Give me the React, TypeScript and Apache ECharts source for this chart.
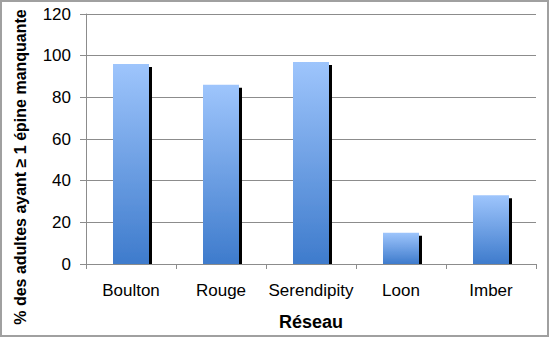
import React, { useEffect, useRef } from "react";
import * as echarts from "echarts";

const categories = ["Boulton", "Rouge", "Serendipity", "Loon", "Imber"];
const values = [96, 86, 97, 15, 33];
const yTicks = [0, 20, 40, 60, 80, 100, 120];
const yTitle = "% des adultes ayant ≥ 1 épine manquante";
const xTitle = "Réseau";

const FONT = "'Liberation Sans', Arial, sans-serif";

export default function App() {
  const ref = useRef<HTMLDivElement>(null);
  useEffect(() => {
    if (!ref.current) return;
    const chart = echarts.init(ref.current, null, { renderer: "svg" });
    chart.setOption({
      animation: false,
      backgroundColor: "#ffffff",
      graphic: [
        {
          type: "rect",
          shape: { x: 1, y: 1, width: 547, height: 335 },
          style: { fill: "none", stroke: "#a0a0a0", lineWidth: 2 },
          silent: true,
        },
        {
          type: "rect",
          z: 4,
          shape: { x: 87, y: 264.5, width: 449, height: 5 },
          style: { fill: "#ffffff" },
          silent: true,
        },
        {
          type: "text",
          x: 20,
          y: 167,
          rotation: Math.PI / 2,
          style: {
            text: yTitle,
            fontFamily: FONT,
            fontSize: 16,
            fontWeight: "bold",
            fill: "#000",
            align: "center",
            verticalAlign: "middle",
          },
          silent: true,
        },
      ],
      grid: { left: 86, right: 14, top: 14, bottom: 74 },
      xAxis: {
        type: "category",
        z: 5,
        data: categories,
        name: xTitle,
        nameLocation: "middle",
        nameGap: 49,
        nameTextStyle: { fontFamily: FONT, fontSize: 18, fontWeight: "bold", color: "#000" },
        axisLine: { lineStyle: { color: "#8c8c8c", width: 1 } },
        axisTick: { show: true, length: 5, alignWithLabel: false, lineStyle: { color: "#8c8c8c" } },
        axisLabel: { fontFamily: FONT, fontSize: 17, color: "#000", margin: 18, interval: 0 },
      },
      yAxis: {
        type: "value",
        min: yTicks[0],
        max: yTicks[yTicks.length - 1],
        interval: 20,
        axisLine: { show: true, lineStyle: { color: "#8c8c8c", width: 1 } },
        axisTick: { show: true, length: 6, lineStyle: { color: "#8c8c8c" } },
        axisLabel: { fontFamily: FONT, fontSize: 17, color: "#000", margin: 15 },
        splitLine: { show: true, lineStyle: { color: "#8c8c8c", width: 1 } },
      },
      series: [
        {
          type: "bar",
          data: values,
          barWidth: 36,
          itemStyle: {
            color: new echarts.graphic.LinearGradient(0, 0, 0, 1, [
              { offset: 0, color: "#9ec5fc" },
              { offset: 1, color: "#3e7bcc" },
            ]),
            shadowColor: "#000000",
            shadowBlur: 0,
            shadowOffsetX: 3,
            shadowOffsetY: 3,
          },
        },
      ],
    });
    return () => chart.dispose();
  }, []);
  return (
    <div
      ref={ref}
      style={{ position: "fixed", left: 0, top: 0, width: 550, height: 338 }}
    />
  );
}
